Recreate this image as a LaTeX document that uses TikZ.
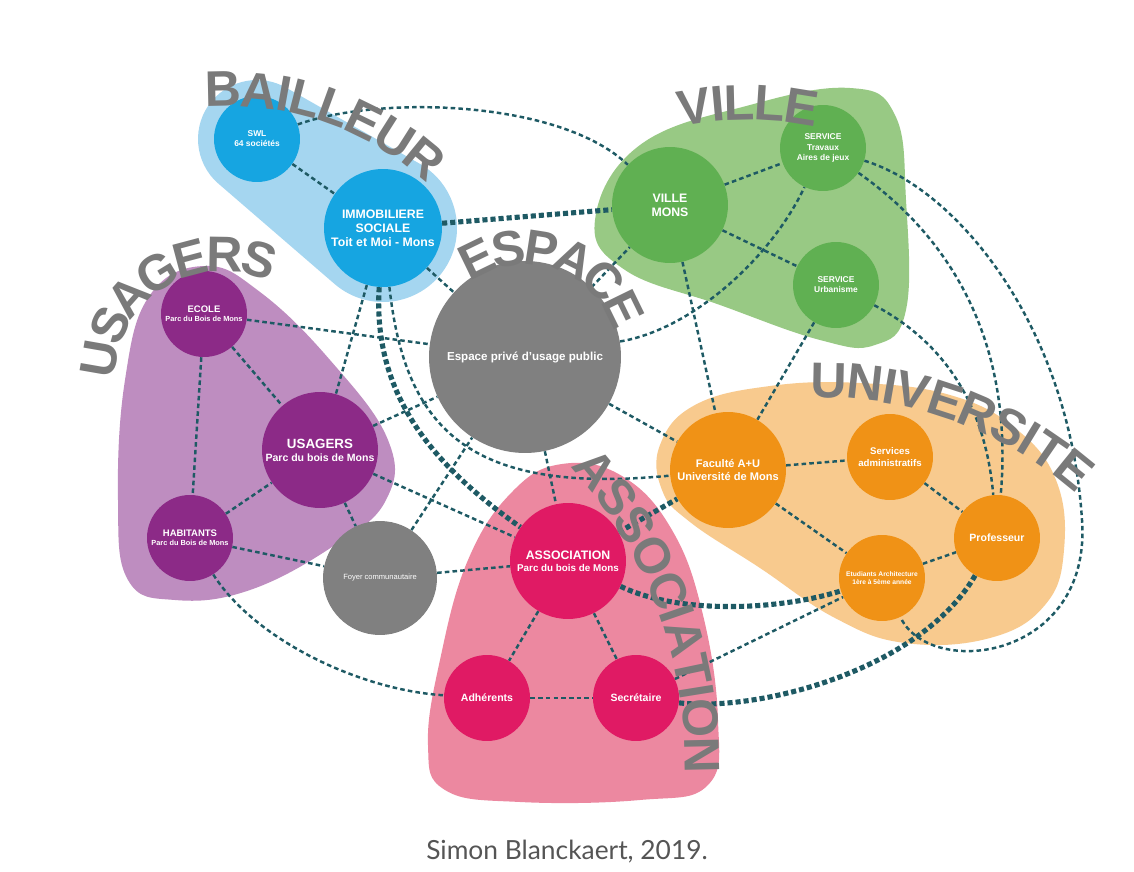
\documentclass[tikz,border=0pt]{standalone}
\usepackage{fontspec}
\setmainfont{Liberation Sans}
\newfontfamily\legendefont{Lato}
\usetikzlibrary{decorations.text}

\definecolor{bleuclair}{RGB}{165,214,240}
\definecolor{bleufonce}{RGB}{22,165,225}
\definecolor{vertclair}{RGB}{152,201,132}
\definecolor{vertfonce}{RGB}{96,176,82}
\definecolor{violetclair}{RGB}{190,141,192}
\definecolor{violetfonce}{RGB}{140,42,135}
\definecolor{roseclair}{RGB}{236,136,160}
\definecolor{rosefonce}{RGB}{224,26,100}
\definecolor{orangeclair}{RGB}{248,202,142}
\definecolor{orangefonce}{RGB}{240,146,22}
\definecolor{grisnoeud}{RGB}{128,128,128}
\definecolor{gristitre}{RGB}{122,122,122}
\definecolor{grislegende}{RGB}{85,85,85}
\definecolor{bleulien}{RGB}{30,90,100}

\newcommand{\titrefont}{\bfseries\fontsize{28.5}{29}\selectfont\color{gristitre}}

\tikzset{
  acteur/.style={circle, inner sep=0pt, align=center, text=white},
  grand/.style={acteur, minimum size=2.32cm, font=\bfseries\fontsize{7}{8}\selectfont},
  petit/.style={acteur, minimum size=1.72cm, font=\bfseries\fontsize{4.8}{5.8}\selectfont},
  lien/.style={draw=bleulien, line width=1.4pt, dash pattern=on 2.6pt off 1.8pt},
  fort/.style={draw=bleulien, line width=2.9pt, dash pattern=on 2.9pt off 1.7pt},
  titre/.style={decorate, decoration={text along path, text align=center, raise=-10pt, text={|\titrefont|#1}}}
}

\begin{document}
\begin{tikzpicture}[x=0.02cm, y=-0.02cm]
\useasboundingbox (0,0) rectangle (1134,872);
\fill[white] (0,0) rectangle (1134,872);

\fill[bleuclair] ([shift={(130.8:59)}]257,139) arc[start angle=130.8, end angle=299.6, radius=59]
  -- ([shift={(-60.4:74)}]383,228) arc[start angle=-60.4, end angle=130.8, radius=74] -- cycle;
\fill[vertclair] plot[smooth cycle, tension=0.7] coordinates {(595,220) (640,145) (750,105) (850,88) (895,115) (906,200) (906,310) (875,345) (820,340) (720,305) (625,270)};
\fill[violetclair] plot[smooth cycle, tension=0.7] coordinates {(205,266) (260,292) (330,360) (388,440) (386,500) (335,545) (250,590) (175,600) (128,580) (118,500) (125,380) (150,295)};
\fill[roseclair] plot[smooth cycle, tension=0.7] coordinates {(512,492) (562,464) (622,476) (672,530) (703,615) (718,720) (708,785) (640,800) (520,802) (445,790) (428,745) (440,660) (468,560)};
\fill[orangeclair] plot[smooth cycle, tension=0.7] coordinates {(660,445) (695,405) (770,386) (860,383) (950,395) (1015,428) (1056,480) (1064,550) (1045,605) (990,638) (905,643) (835,618) (760,568) (690,522) (662,490)};

\node[petit, fill=bleufonce] (swl) at (257,139) {SWL\\64 sociétés};
\node[grand, fill=bleufonce, minimum size=2.36cm] (immo) at (383,228) {IMMOBILIERE\\SOCIALE\\Toit et Moi - Mons};
\node[grand, fill=vertfonce] (ville) at (670,205) {VILLE\\MONS};
\node[petit, fill=vertfonce] (travaux) at (823,148) {SERVICE\\Travaux\\Aires de jeux};
\node[petit, fill=vertfonce] (urba) at (836,285) {SERVICE\\Urbanisme};
\node[petit, fill=violetfonce, font=\bfseries\fontsize{4.2}{5.2}\selectfont] (ecole) at (204,314) {{\fontsize{5.4}{6.4}\selectfont ECOLE}\\Parc du Bois de Mons};
\node[grand, fill=violetfonce, font=\bfseries\fontsize{6}{7.4}\selectfont] (usagers) at (320,450) {{\fontsize{7.6}{9}\selectfont USAGERS}\\Parc du bois de Mons};
\node[petit, fill=violetfonce, font=\bfseries\fontsize{4.2}{5.2}\selectfont] (habitants) at (190,538) {{\fontsize{5.4}{6.4}\selectfont HABITANTS}\\Parc du Bois de Mons};
\node[acteur, fill=grisnoeud, minimum size=3.84cm, font=\bfseries\fontsize{6.6}{8}\selectfont] (espace) at (525,357) {Espace privé d’usage public};
\node[acteur, fill=grisnoeud, minimum size=2.28cm, font=\fontsize{4.3}{5}\selectfont] (foyer) at (380,578) {Foyer communautaire};
\node[grand, fill=rosefonce, font=\bfseries\fontsize{5.6}{7}\selectfont] (assoc) at (568,561) {{\fontsize{7}{8.4}\selectfont ASSOCIATION}\\Parc du bois de Mons};
\node[petit, fill=rosefonce, font=\bfseries\fontsize{6}{7}\selectfont] (adherents) at (487,698) {Adhérents};
\node[petit, fill=rosefonce, font=\bfseries\fontsize{6}{7}\selectfont] (secretaire) at (636,698) {Secrétaire};
\node[grand, fill=orangefonce, font=\bfseries\fontsize{6.3}{7.6}\selectfont] (faculte) at (728,470) {Faculté A+U\\Université de Mons};
\node[petit, fill=orangefonce, font=\bfseries\fontsize{5.5}{6.6}\selectfont] (servadmin) at (890,457) {Services\\administratifs};
\node[petit, fill=orangefonce, font=\bfseries\fontsize{6}{7}\selectfont] (prof) at (997,538) {Professeur};
\node[petit, fill=orangefonce, font=\bfseries\fontsize{3.8}{4.8}\selectfont] (etudiants) at (882,578) {Etudiants Architecture\\1ère à 5ème année};

\path[lien] (swl) edge (immo)
            (immo) edge (usagers)
            (immo) edge (espace)
            (ecole) edge (usagers)
            (ecole) edge (habitants)
            (ecole) edge (espace)
            (habitants) edge (usagers)
            (habitants) edge (foyer)
            (usagers) edge (foyer)
            (usagers) edge (espace)
            (usagers) edge (assoc)
            (foyer) edge (espace)
            (foyer) edge (assoc)
            (espace) edge (assoc)
            (espace) edge (ville)
            (espace) edge (faculte)
            (ville) edge (travaux)
            (ville) edge (urba)
            (ville) edge (faculte)
            (urba) edge (faculte)
            (faculte) edge (servadmin)
            (faculte) edge (etudiants)
            (servadmin) edge (prof)
            (etudiants) edge (prof)
            (assoc) edge (adherents)
            (assoc) edge (secretaire)
            (adherents) edge (secretaire)
            (secretaire) edge (etudiants);

\coordinate (detour) at (1082,520);
\draw[lien] (swl) .. controls (380,95) and (560,100) .. (ville);
\draw[lien] (immo) .. controls (405,430) and (470,495) .. (faculte);
\draw[lien] (habitants) .. controls (255,640) and (360,690) .. (adherents);
\draw[lien] (espace) .. controls (690,330) and (770,260) .. (travaux);
\draw[lien] (urba) .. controls (940,340) and (985,400) .. (prof);
\draw[lien] (travaux) .. controls (940,230) and (1015,330) .. (prof);
\draw[lien] (travaux) .. controls (960,190) and (1070,330) .. (detour) .. controls (1092,660) and (930,680) .. (etudiants);

\path[fort] (immo) edge (ville)
            (assoc) edge (faculte);
\draw[fort] (immo) .. controls (372,400) and (440,470) .. (assoc);
\draw[fort] (assoc) .. controls (680,615) and (780,610) .. (etudiants);
\draw[fort] (secretaire) .. controls (760,712) and (920,670) .. (prof);

\path[titre=BAILLEUR] ([shift={(-116:307)}]230,396) arc[start angle=-116, end angle=-26, radius=307];
\path[titre=VILLE] ([shift={(-115:340)}]748,442) arc[start angle=-115, end angle=-65, radius=340];
\path[titre=USAGERS] ([shift={(-227:126)}]223,380) arc[start angle=-227, end angle=-17, radius=126];
\path[titre=ESPACE] ([shift={(-151:110)}]525,357) arc[start angle=-151, end angle=9, radius=110];
\path[titre=UNIVERSITE] ([shift={(-100:402)}]821,782) arc[start angle=-100, end angle=-40, radius=402];
\path[titre=ASSOCIATION] ([shift={(-55:462)}]241,765) arc[start angle=-55, end angle=14, radius=462];

\node[font=\legendefont\fontsize{15}{18}\selectfont, text=grislegende] (legende) at (567,852) {Simon Blanckaert, 2019.};
\end{tikzpicture}
\end{document}
